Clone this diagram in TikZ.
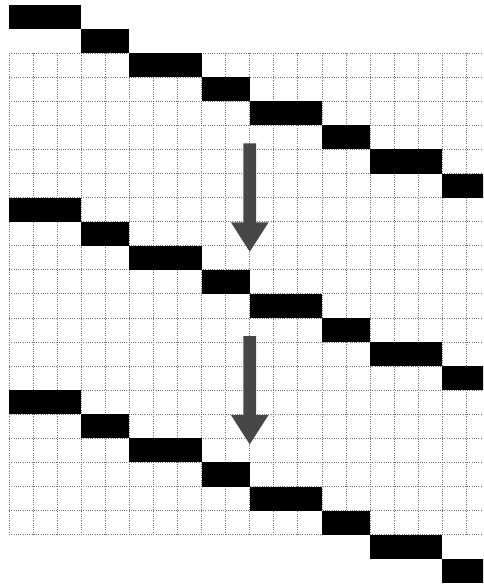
\documentclass[tikz,border=0pt]{standalone}
\usepackage{tikz}

\begin{document}
\begin{tikzpicture}[x=0.6cm,y=0.6cm,
  cell/.style={fill=black},
  gridline/.style={densely dotted, black!55, line width=0.6pt},
  downarrow/.style={fill=black!72}]

  % ==========================================
  % Frame (picture margins)
  % ==========================================
  \useasboundingbox (-0.374,0.208) rectangle (19.69,-24.05);
  \clip (-0.374,0.208) rectangle (19.69,-24.05);

  % ==========================================
  % Dotted grid
  % ==========================================
  \draw[gridline, step=0.6cm] (0,-2) grid (20,-22);

  % ==========================================
  % Staircase of black cells (three copies)
  % ==========================================
  \foreach \blk in {0,1,2} {
    \begin{scope}[shift={(0,-8*\blk)}]
      \fill[cell] (0,0) rectangle (3,-1);
      \fill[cell] (3,-1) rectangle (5,-2);
      \fill[cell] (5,-2) rectangle (8,-3);
      \fill[cell] (8,-3) rectangle (10,-4);
      \fill[cell] (10,-4) rectangle (13,-5);
      \fill[cell] (13,-5) rectangle (15,-6);
      \fill[cell] (15,-6) rectangle (18,-7);
      \fill[cell] (18,-7) rectangle (20,-8);
    \end{scope}
  }

  % ==========================================
  % Down arrows between the copies
  % ==========================================
  \foreach \blk in {0,1} {
    \begin{scope}[shift={(0,-8*\blk)}]
      \fill[downarrow] (9.74,-5.75) -- (10.26,-5.75) -- (10.26,-9.03)
        -- (10.78,-9.03) -- (10,-10.25) -- (9.22,-9.03) -- (9.74,-9.03) -- cycle;
    \end{scope}
  }

\end{tikzpicture}
\end{document}
